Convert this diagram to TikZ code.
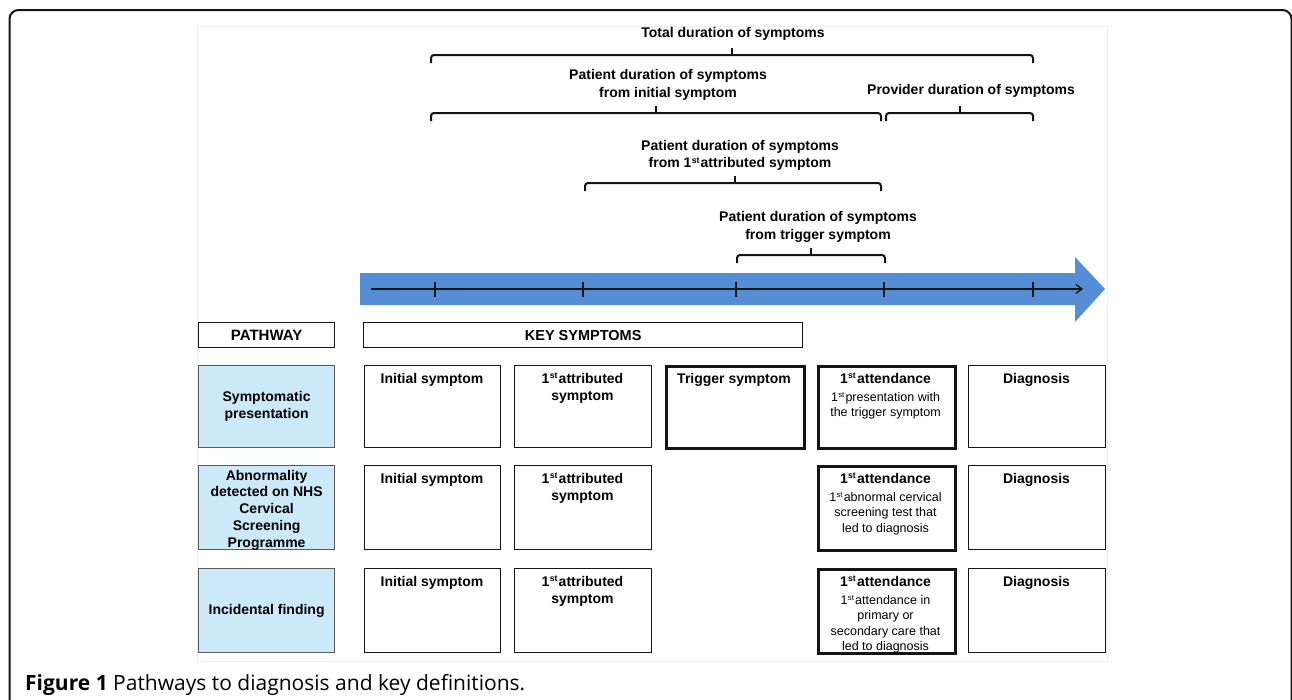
\documentclass[tikz,border=0pt]{standalone}
\usepackage{fontspec}
\setmainfont{Liberation Sans}
\newfontfamily\capfont{Open Sans}
\usetikzlibrary{arrows.meta}
\definecolor{arrowblue}{RGB}{85,142,213}
\definecolor{paleblue}{RGB}{204,233,250}
\definecolor{panelgray}{RGB}{236,239,239}
\definecolor{ink}{RGB}{20,20,20}
\newcommand\sts{\kern0.3pt\raisebox{0.33em}{\scalebox{0.62}{st}}\kern1.2pt}
\tikzset{
  bracepath/.style={line width=2pt, rounded corners=3pt, ink},
  toptext/.style={font=\bfseries\fontsize{14}{17.5}\selectfont, align=center, inner sep=0pt},
  hdtext/.style={font=\bfseries\fontsize{14}{17}\selectfont, align=center, inner sep=0pt, anchor=base},
  bodytext/.style={font=\fontsize{12.5}{15.5}\selectfont, align=center, inner sep=0pt, anchor=north},
  pwtext/.style={font=\bfseries\fontsize{14}{16.8}\selectfont, align=center, inner sep=0pt},
  plainbox/.style={draw=ink, line width=1.3pt, anchor=north west, inner sep=0pt},
  thickbox/.style={draw=ink, line width=2.8pt, anchor=north west, inner sep=0pt},
  pwbox/.style={draw=black!65, fill=paleblue, line width=1.2pt, anchor=north west, inner sep=0pt},
  tick/.style={line width=1.3pt, ink},
}
\newcommand\mybrace[4]{% x1, x2, y, tick x
  \draw[bracepath] (#1,#3+8) -- (#1,#3) -- (#2,#3) -- (#2,#3+8);
  \draw[line width=2pt, ink] (#4,#3) -- (#4,#3-7);
}
\begin{document}
\begin{tikzpicture}[x=1pt,y=-1pt]
\useasboundingbox (0,0) rectangle (1292,699);
\clip (0,0) rectangle (1292,699);
% outer frame
\draw[line width=2pt, rounded corners=9pt, ink] (9.5,720) -- (9.5,10) -- (1291.5,10) -- (1291.5,720);
% panel
\draw[panelgray, line width=1pt] (197,26) rectangle (1107,661);

% top labels
\node[toptext] (tot) at (733,33.5) {Total duration of symptoms};
\node[toptext] (pinit) at (668,85) {Patient duration of symptoms\\from initial symptom};
\node[toptext] (prov) at (971,90.5) {Provider duration of symptoms};
\node[toptext] (patt) at (740,155.5) {Patient duration of symptoms\\from 1\sts{}attributed symptom};
\node[toptext] (ptrig) at (818,227) {Patient duration of symptoms\\from trigger symptom};

% braces
\mybrace{431}{1033}{55}{732}
\mybrace{431}{881}{113}{656}
\mybrace{886}{1033}{113}{960}
\mybrace{585}{881}{183}{735}
\mybrace{737}{885}{255}{811}

% big arrow
\fill[arrowblue] (360,273) -- (1075,273) -- (1075,257) -- (1105,289) -- (1075,322) -- (1075,305) -- (360,305) -- cycle;
\coordinate (tlstart) at (371,289);
\coordinate (tlend) at (1083,289);
\draw[line width=1.3pt, ink, -{Straight Barb[length=6pt,width=9pt,line width=1.3pt]}] (tlstart) -- (tlend);
\foreach \x in {435,583,736,884,1033} \draw[tick] (\x,282) -- (\x,297);

% header row
\node[plainbox, minimum width=136pt, minimum height=25pt] (pathway) at (198,322) {};
\node[font=\bfseries\fontsize{15}{17}\selectfont] at (pathway.center) {PATHWAY};
\node[plainbox, minimum width=439pt, minimum height=25pt] (keysym) at (363,322) {};
\node[font=\bfseries\fontsize{14.5}{17}\selectfont] at (keysym.center) {KEY SYMPTOMS};

% row 1
\node[pwbox, minimum width=136pt, minimum height=82pt] (pw1) at (198,365) {};
\node[pwtext] at (pw1.center) {Symptomatic\\presentation};
\node[plainbox, minimum width=136pt, minimum height=82pt] (i1) at (364,365) {};
\node[hdtext] at (432,383) {Initial symptom};
\node[plainbox, minimum width=137pt, minimum height=82pt] (a1) at (514,365) {};
\node[hdtext] at (582.5,400) {1\sts{}attributed\\symptom};
\node[thickbox, minimum width=138pt, minimum height=82pt] (t1) at (665,365) {};
\node[hdtext] at (734,383) {Trigger symptom};
\node[thickbox, minimum width=137pt, minimum height=82pt] (f1) at (817,365) {};
\node[hdtext] at (885.5,383) {1\sts{}attendance};
\node[bodytext] at (885.5,392) {1\sts{}presentation with\\the trigger symptom};
\node[plainbox, minimum width=137pt, minimum height=82pt] (d1) at (968,365) {};
\node[hdtext] at (1036.5,383) {Diagnosis};

% row 2
\node[pwbox, minimum width=136pt, minimum height=84pt] (pw2) at (198,465) {};
\node[pwtext] at ([yshift=-2.5pt]pw2.center) {Abnormality\\detected on NHS\\Cervical\\Screening\\Programme};
\node[plainbox, minimum width=136pt, minimum height=84pt] (i2) at (364,465) {};
\node[hdtext] at (432,483) {Initial symptom};
\node[plainbox, minimum width=137pt, minimum height=84pt] (a2) at (514,465) {};
\node[hdtext] at (582.5,500) {1\sts{}attributed\\symptom};
\node[thickbox, minimum width=137pt, minimum height=84pt] (f2) at (817,465) {};
\node[hdtext] at (885.5,483) {1\sts{}attendance};
\node[bodytext] at (885.5,492) {1\sts{}abnormal cervical\\screening test that\\led to diagnosis};
\node[plainbox, minimum width=137pt, minimum height=84pt] (d2) at (968,465) {};
\node[hdtext] at (1036.5,483) {Diagnosis};

% row 3
\node[pwbox, minimum width=136pt, minimum height=84pt] (pw3) at (198,568) {};
\node[pwtext] at (pw3.center) {Incidental finding};
\node[plainbox, minimum width=136pt, minimum height=84pt] (i3) at (364,568) {};
\node[hdtext] at (432,586) {Initial symptom};
\node[plainbox, minimum width=137pt, minimum height=84pt] (a3) at (514,568) {};
\node[hdtext] at (582.5,603) {1\sts{}attributed\\symptom};
\node[thickbox, minimum width=137pt, minimum height=84pt] (f3) at (817,568) {};
\node[hdtext] at (885.5,586) {1\sts{}attendance};
\node[bodytext] at (885.5,595) {1\sts{}attendance in\\primary or\\secondary care that\\led to diagnosis};
\node[plainbox, minimum width=137pt, minimum height=84pt] (d3) at (968,568) {};
\node[hdtext] at (1036.5,586) {Diagnosis};

% caption
\node[anchor=base west, inner sep=0pt, font=\capfont\fontsize{21}{24}\selectfont] (cap) at (25,690) {\textbf{Figure 1} Pathways to diagnosis and key definitions.};
\end{tikzpicture}
\end{document}
